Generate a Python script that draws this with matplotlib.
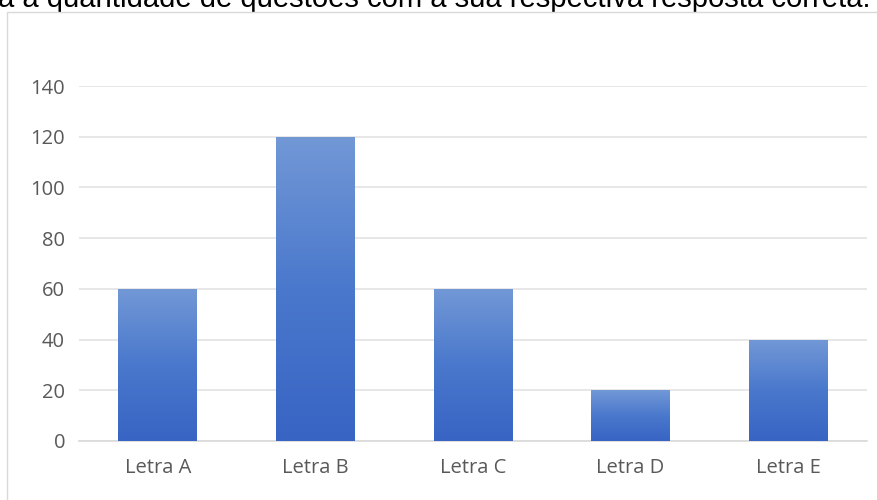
import numpy as np
import matplotlib.pyplot as plt
from matplotlib.patches import Rectangle
from matplotlib.colors import LinearSegmentedColormap

categories = ["Letra A", "Letra B", "Letra C", "Letra D", "Letra E"]
values = [60, 120, 60, 20, 40]
y_ticks = [0, 20, 40, 60, 80, 100, 120, 140]
caption = "a a quantidade de questões com a sua respectiva resposta correta."

W, H = 877, 500
fig = plt.figure(figsize=(W / 100, H / 100), dpi=100)
fig.patch.set_facecolor("white")

# caption cut at the top of the image (only lower half visible)
cap = fig.text(-2 / W, 1 - 7 / H, caption, fontsize=19, family="Liberation Sans",
               color="black", va="baseline", ha="left", zorder=3)
fig.canvas.draw()
w = cap.get_window_extent().width
cap.set_fontsize(19 * 875 / w)

# chart frame
frame = Rectangle((7 / W, -0.1), 1.2, 1 - 12 / H + 0.1, transform=fig.transFigure,
                  facecolor="white", edgecolor="#d9d9d9", linewidth=1, zorder=4)
fig.patches.append(frame)

ax = fig.add_axes([79 / W, 59 / H, 788 / W, 355 / H])
ax.set_zorder(5)
ax.patch.set_alpha(0)

x = np.arange(len(categories))
bars = ax.bar(x, values, width=0.5, color="#4a78cc", zorder=2)

cmap = LinearSegmentedColormap.from_list("grad", ["#3864c4", "#4a78cc", "#7298d6"])
grad = np.linspace(0, 1, 256).reshape(-1, 1)
for b in bars:
    x0, y0 = b.get_x(), b.get_y()
    im = ax.imshow(grad, cmap=cmap, origin="lower", aspect="auto", zorder=3,
                   extent=[x0, x0 + b.get_width(), y0, y0 + b.get_height()])
    im.set_clip_path(b)

ax.set_xlim(-0.5, 4.5)
ax.set_ylim(0, 140)
ax.set_yticks(y_ticks)
ax.set_xticks(x)
ax.set_xticklabels(categories)
ax.yaxis.grid(True, color="#e3e3e3", linewidth=1.2, zorder=0)
ax.set_axisbelow(True)
for s in ["top", "right", "left"]:
    ax.spines[s].set_visible(False)
ax.spines["bottom"].set_color("#d9d9d9")
ax.spines["bottom"].set_linewidth(1.2)
ax.tick_params(length=0, labelsize=14.5, colors="#595959")
ax.tick_params(axis="y", pad=10)
ax.tick_params(axis="x", pad=12)
for lab in ax.get_xticklabels() + ax.get_yticklabels():
    lab.set_family("Open Sans")

fig.savefig("out.png", dpi=100)
